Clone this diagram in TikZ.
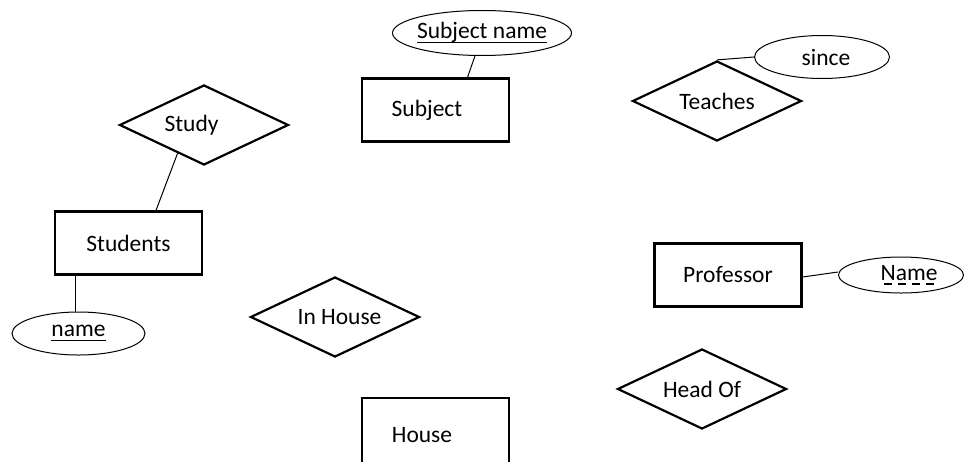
\documentclass[tikz,border=0pt]{standalone}
\usepackage{fontspec}
\setmainfont{Carlito}
\usetikzlibrary{shapes.geometric}
\newcommand{\uln}[1]{\setbox0\hbox{#1}\rlap{\rule[-4.5pt]{\wd0}{1.4pt}}\box0}
\newcommand{\dashuln}[1]{\setbox0\hbox{#1}\rlap{\raisebox{-4.5pt}{\hbox to \wd0{\cleaders\hbox{\kern3pt\rule{8pt}{1.4pt}\kern3pt}\hfill}}}\box0}

\begin{document}
\begin{tikzpicture}[x=1pt, y=-1pt,
    every node/.style={font=\fontsize{23.5}{28}\selectfont, inner sep=0pt},
    entity/.style={draw, line width=2.2pt, minimum width=147pt, minimum height=63pt},
    relation/.style={draw, diamond, shape aspect=2, line width=2.2pt, minimum width=169pt, minimum height=80pt},
    attribute/.style={draw, ellipse, line width=1pt}]
    \useasboundingbox (0,0) rectangle (965,461);
    \node[entity] (subject) at (435.5, 110) {\hspace*{-17pt}Subject};
    \node[entity] (students) at (128.5, 243) {Students};
    \node[entity] (professor) at (728, 275) {Professor};
    \node[entity, minimum height=80pt] (house) at (435.5, 438) {\hspace*{-27pt}\raisebox{6pt}{House}};
    \node[relation] (study) at (204, 125) {\hspace*{-25pt}Study};
    \node[relation] (teaches) at (717, 101) {Teaches};
    \node[relation] (inhouse) at (335, 317) {\hspace*{9pt}In House};
    \node[relation] (headof) at (702, 389) {Head Of};
    \node[attribute, minimum width=179pt, minimum height=45pt] (sname) at (482, 33) {\makebox[0pt]{\uln{Subject name}}};
    \node[attribute, minimum width=135pt, minimum height=43pt] (since) at (822, 57) {\hspace*{8pt}since};
    \node[attribute, minimum width=133pt, minimum height=43pt] (name) at (78.5, 333.5) {\uln{name}};
    \node[attribute, minimum width=125pt, minimum height=36pt] (pname) at (901, 275) {\hspace*{16pt}\dashuln{Name}};
    \draw[line width=1pt] (sname.253) -- ([xshift=32pt]subject.north);
    \draw[line width=1pt] (teaches.north) -- (since.west);
    \draw[line width=1pt] (study.227) -- ([xshift=27.5pt]students.north);
    \draw[line width=1pt] ([xshift=-3pt]name.north) -- ([xshift=-3pt]name.north |- students.south);
    \draw[line width=1pt] ([yshift=-2pt]professor.east) -- ([yshift=3pt]pname.west);
\end{tikzpicture}
\end{document}
